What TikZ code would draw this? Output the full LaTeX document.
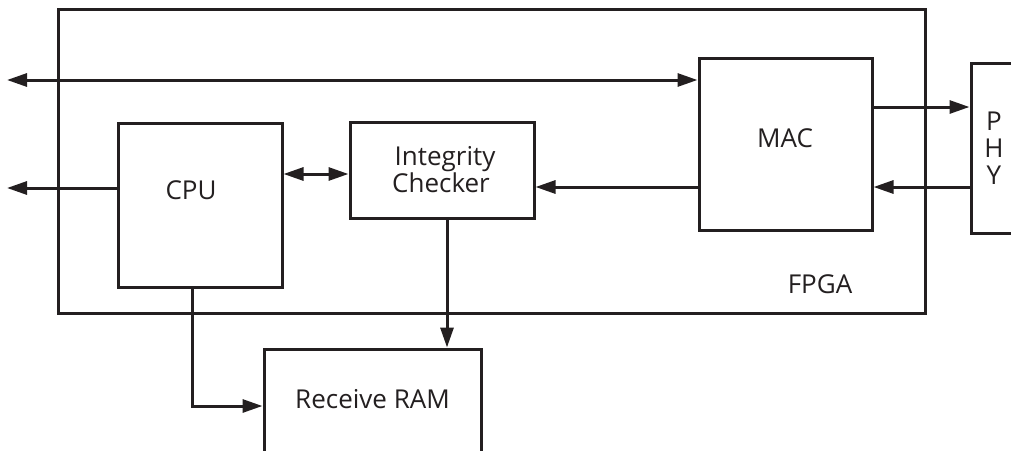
\documentclass[tikz,border=0pt]{standalone}
\usepackage{fontspec}
\setmainfont{Open Sans}
\usetikzlibrary{arrows.meta}

\definecolor{ink}{HTML}{231F20}

\tikzset{
  block/.style={draw=ink, line width=3pt, rectangle, inner sep=0pt,
                minimum width=#1},
  lbl/.style={text=ink, font=\fontsize{26}{31}\selectfont, inner sep=0pt, anchor=base},
  wire/.style={draw=ink, line width=3pt},
  tip/.style={-{Triangle[length=20pt,width=13pt]}},
  tips/.style={{Triangle[length=20pt,width=13pt]}-{Triangle[length=20pt,width=13pt]}},
}

\begin{document}
\begin{tikzpicture}[x=1pt, y=-1pt]
  \useasboundingbox (0,0) rectangle (1011,450);
  \clip (0,0) rectangle (1011,450);

  % blocks
  \node[block=867pt, minimum height=304pt] (fpga) at (491.5,161) {};
  \node[block=164pt, minimum height=164pt] (cpu)  at (200,205) {};
  \node[block=184pt, minimum height=96pt]  (chk)  at (442,170) {};
  \node[block=173pt, minimum height=172pt] (mac)  at (785.5,144) {};
  \node[block=80pt,  minimum height=170pt] (phy)  at (1011,148) {};
  \node[block=217pt, minimum height=140pt] (ram)  at (372.5,419) {};

  % labels
  \node[lbl] (tcpu)  at (191,199)   {CPU};
  \node[lbl] (tmac)  at (785,147)   {MAC};
  \node[lbl] (tfpga) at (820,293)   {FPGA};
  \node[lbl] (tram)  at (372.5,408) {Receive RAM};
  \node[lbl] (tchk1) at (445,165)   {Integrity};
  \node[lbl] (tchk2) at (441,192)   {Checker};
  \node[lbl] (tp)    at (994,130)   {P};
  \node[lbl] (th)    at (994,157)   {H};
  \node[lbl] (ty)    at (994,184)   {Y};

  % free ends on the left edge
  \coordinate (busL) at (7,80);
  \coordinate (cpuL) at (7,188);
  \coordinate (ramin) at (192,406);

  % connectors
  \draw[wire, tips] (busL) -- (busL -| mac.west);
  \draw[wire, tip]  (cpuL -| cpu.west) -- (cpuL);
  \draw[wire, tips] (cpu.east |- 0,174) -- (chk.west |- 0,174);
  \draw[wire, tip]  (mac.west |- 0,187) -- (chk.east |- 0,187);
  \draw[wire, tip]  (mac.east |- 0,107) -- (phy.west |- 0,107);
  \draw[wire, tip]  (phy.west |- 0,187) -- (mac.east |- 0,187);
  \draw[wire, tip]  (447,0 |- chk.south) -- (447,0 |- ram.north);
  \draw[wire, tip]  (ramin |- cpu.south) -- (ramin) -- (ramin -| ram.west);
\end{tikzpicture}
\end{document}
